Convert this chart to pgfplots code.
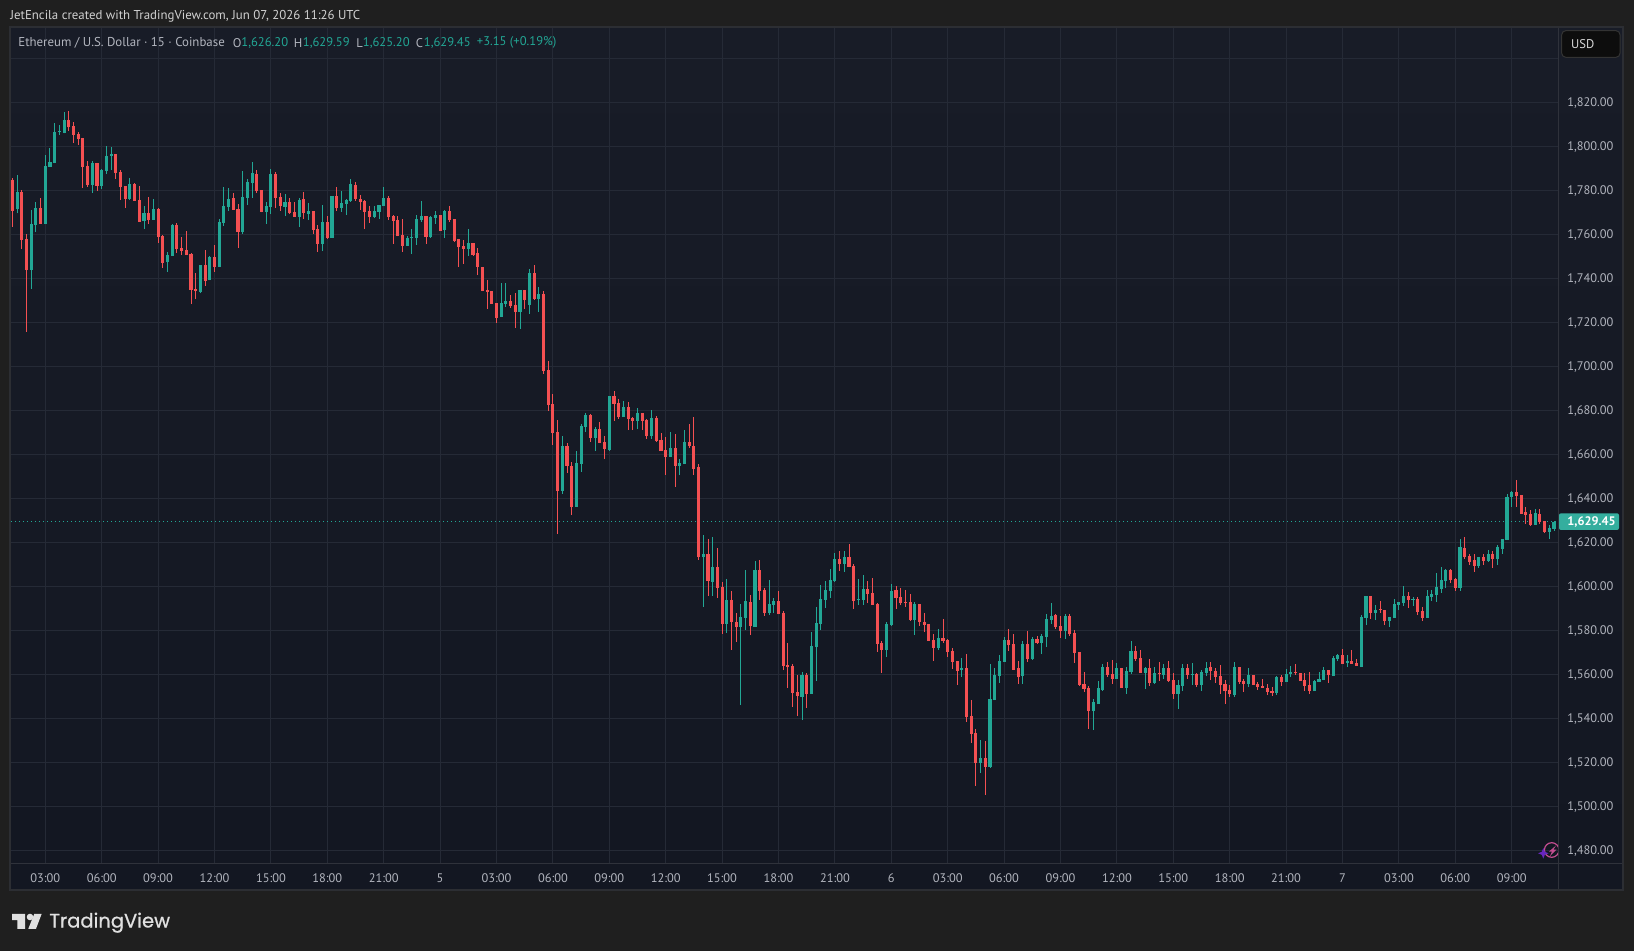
\documentclass[border=0pt]{standalone}
\usepackage{pgfplots}
\usepackage{pgfplotstable}
\usepackage{fontspec}
\pgfplotsset{compat=1.18}
\setmainfont{PT Sans}
\newfontfamily\logofont{Poppins}[FakeBold=0.7]
\definecolor{outerbg}{HTML}{1F1F1F}
\definecolor{panetop}{HTML}{181C27}
\definecolor{panebot}{HTML}{131722}
\definecolor{gridc}{HTML}{252A36}
\definecolor{linec}{HTML}{2F323B}
\definecolor{framec}{HTML}{2C2E33}
\definecolor{upc}{HTML}{22A795}
\definecolor{downc}{HTML}{F45052}
\definecolor{txt}{HTML}{B2B5BE}
\pgfplotstableread{
i o h l c
0 1784.7 1785.8 1763.5 1770.8
1 1771.4 1787.0 1769.5 1779.4
2 1779.4 1780.2 1753.5 1757.4
3 1758.0 1760.0 1715.8 1743.8
4 1743.8 1771.1 1735.3 1764.7
5 1764.2 1774.7 1761.1 1772.0
6 1772.0 1776.5 1764.7 1764.7
7 1764.7 1796.1 1764.7 1791.1
8 1790.8 1799.2 1790.8 1792.9
9 1792.4 1810.6 1792.4 1806.5
10 1806.5 1809.7 1805.2 1807.0
11 1806.2 1815.6 1805.9 1812.0
12 1812.0 1816.1 1807.1 1808.6
13 1809.2 1811.1 1801.7 1805.2
14 1805.6 1806.5 1800.8 1803.3
15 1803.8 1803.8 1781.1 1790.8
16 1791.1 1793.3 1781.7 1782.3
17 1782.4 1793.3 1778.8 1792.4
18 1792.4 1792.4 1779.8 1782.0
19 1782.0 1789.7 1780.8 1789.2
20 1788.8 1800.2 1787.4 1795.6
21 1795.6 1799.7 1789.2 1796.5
22 1796.5 1796.5 1785.3 1787.9
23 1788.3 1789.2 1775.6 1781.7
24 1782.0 1782.0 1772.1 1776.1
25 1776.1 1785.6 1775.6 1782.9
26 1782.9 1783.3 1775.2 1775.2
27 1775.6 1782.0 1765.6 1765.6
28 1766.1 1772.9 1762.4 1769.7
29 1769.7 1777.0 1764.7 1766.5
30 1766.5 1776.1 1766.5 1771.5
31 1771.5 1772.0 1756.1 1758.8
32 1759.2 1759.7 1744.7 1747.0
33 1747.4 1752.0 1742.9 1750.6
34 1750.2 1764.7 1750.2 1764.2
35 1764.2 1765.2 1751.5 1753.3
36 1753.8 1758.8 1750.6 1752.4
37 1752.9 1761.5 1750.5 1750.5
38 1751.1 1751.5 1728.3 1734.7
39 1735.2 1742.4 1730.6 1734.2
40 1733.8 1746.1 1733.2 1746.1
41 1746.1 1752.9 1736.5 1738.8
42 1739.2 1750.2 1739.2 1749.7
43 1749.7 1755.2 1742.9 1745.2
44 1745.2 1767.0 1745.2 1765.6
45 1765.2 1781.5 1763.8 1772.9
46 1772.4 1781.1 1770.6 1776.1
47 1776.5 1778.8 1771.1 1771.1
48 1771.5 1773.8 1753.8 1761.1
49 1761.1 1788.8 1760.2 1777.0
50 1776.5 1785.2 1773.3 1783.8
51 1783.3 1792.9 1776.5 1787.9
52 1787.4 1789.2 1778.8 1779.7
53 1780.2 1780.2 1770.0 1770.2
54 1770.2 1774.7 1764.7 1772.9
55 1772.4 1789.7 1769.2 1787.4
56 1787.4 1788.3 1772.0 1776.5
57 1777.0 1778.8 1770.6 1772.9
58 1772.4 1778.3 1768.3 1774.7
59 1774.7 1776.5 1769.2 1769.7
60 1770.2 1774.7 1767.9 1767.9
61 1767.9 1776.5 1763.3 1775.6
62 1776.1 1779.2 1767.0 1769.7
63 1769.2 1774.2 1766.5 1770.6
64 1770.6 1770.6 1760.2 1762.0
65 1762.4 1764.2 1752.0 1755.6
66 1755.6 1773.3 1752.4 1765.6
67 1765.6 1768.3 1757.9 1758.3
68 1758.3 1777.4 1758.3 1777.4
69 1777.4 1781.5 1770.6 1772.0
70 1772.0 1779.7 1770.2 1774.2
71 1773.8 1776.1 1768.8 1775.6
72 1775.2 1785.2 1774.7 1782.9
73 1782.4 1783.8 1775.2 1776.1
74 1776.1 1777.9 1771.1 1774.7
75 1775.2 1775.6 1762.4 1770.2
76 1770.6 1772.9 1765.2 1767.9
77 1767.9 1772.9 1767.4 1770.6
78 1770.2 1773.3 1767.0 1773.3
79 1772.9 1781.5 1772.9 1776.5
80 1776.5 1777.4 1766.5 1767.9
81 1768.3 1768.8 1755.6 1766.1
82 1766.5 1768.3 1759.2 1759.2
83 1759.7 1767.0 1752.0 1754.7
84 1754.7 1759.2 1754.7 1758.3
85 1758.3 1762.4 1751.1 1758.8
86 1758.3 1768.8 1755.2 1767.0
87 1766.5 1775.2 1765.6 1768.3
88 1768.3 1768.3 1755.6 1758.8
89 1758.6 1768.3 1758.3 1767.9
90 1767.4 1770.6 1764.7 1768.8
91 1768.8 1768.8 1761.5 1761.5
92 1762.0 1771.1 1758.3 1770.6
93 1770.6 1772.9 1765.6 1766.5
94 1767.0 1767.0 1756.5 1757.0
95 1757.9 1757.9 1745.2 1754.2
96 1754.7 1757.4 1746.5 1753.3
97 1753.3 1762.4 1750.2 1756.1
98 1756.1 1756.1 1750.2 1750.6
99 1751.5 1753.8 1741.5 1745.2
100 1745.2 1745.2 1734.2 1734.2
101 1734.7 1739.2 1726.1 1733.8
102 1734.2 1734.2 1728.3 1728.3
103 1728.8 1728.8 1719.7 1722.0
104 1722.4 1737.9 1722.4 1728.8
105 1728.3 1737.9 1727.0 1729.7
106 1729.7 1732.4 1726.5 1727.4
107 1727.9 1733.3 1717.4 1724.7
108 1724.7 1734.7 1717.0 1734.7
109 1734.7 1734.7 1726.1 1730.2
110 1727.9 1744.2 1723.8 1742.4
111 1742.4 1746.1 1730.2 1730.6
112 1730.6 1736.1 1724.7 1732.9
113 1732.9 1734.2 1696.5 1697.9
114 1698.3 1702.4 1679.7 1682.4
115 1682.9 1687.4 1664.2 1669.7
116 1670.2 1675.6 1623.8 1643.3
117 1643.3 1668.3 1642.0 1663.8
118 1663.8 1665.2 1651.5 1654.7
119 1654.7 1656.5 1632.4 1636.1
120 1636.1 1661.5 1636.1 1656.1
121 1655.6 1673.8 1652.0 1672.9
122 1672.4 1678.8 1670.2 1677.9
123 1677.9 1678.3 1665.6 1667.4
124 1667.4 1672.4 1661.5 1671.5
125 1671.5 1674.7 1665.2 1665.2
126 1665.6 1668.3 1657.9 1662.4
127 1662.0 1686.5 1661.5 1686.5
128 1686.5 1688.8 1675.2 1682.9
129 1683.3 1685.2 1676.1 1677.0
130 1677.0 1684.2 1677.0 1681.5
131 1681.5 1683.8 1671.1 1676.1
132 1676.5 1677.0 1671.1 1675.2
133 1675.2 1681.1 1671.5 1678.8
134 1678.8 1678.8 1671.1 1675.2
135 1675.6 1676.1 1667.0 1668.3
136 1668.3 1680.2 1667.0 1676.5
137 1676.5 1677.4 1665.6 1666.1
138 1666.5 1669.7 1661.5 1661.5
139 1662.0 1667.9 1650.6 1658.8
140 1658.8 1670.2 1658.8 1662.9
141 1662.9 1669.2 1645.2 1654.7
142 1654.7 1657.9 1650.6 1656.1
143 1655.6 1671.1 1655.6 1665.6
144 1665.6 1673.8 1662.9 1663.8
145 1663.8 1677.0 1650.6 1653.3
146 1654.2 1655.6 1612.0 1613.3
147 1613.3 1623.3 1590.6 1614.7
148 1614.7 1621.5 1595.6 1602.4
149 1602.0 1622.4 1595.6 1608.8
150 1608.8 1617.4 1594.7 1599.2
151 1599.7 1602.0 1578.3 1582.9
152 1582.9 1603.3 1578.8 1593.8
153 1593.8 1597.9 1571.1 1583.8
154 1583.8 1587.9 1574.7 1581.5
155 1581.5 1592.0 1546.1 1586.1
156 1585.6 1607.4 1580.2 1593.3
157 1592.9 1596.1 1577.9 1582.0
158 1581.5 1611.5 1581.5 1607.4
159 1607.4 1612.0 1593.8 1597.9
160 1598.3 1599.2 1586.5 1587.9
161 1587.9 1602.9 1587.0 1592.0
162 1591.5 1594.7 1587.9 1593.3
163 1593.3 1597.9 1587.4 1587.4
164 1587.9 1588.8 1562.0 1563.8
165 1564.2 1574.2 1553.8 1563.3
166 1563.8 1564.7 1545.2 1551.5
167 1552.0 1559.7 1541.1 1550.2
168 1549.7 1561.1 1539.2 1559.7
169 1559.7 1560.6 1544.7 1551.1
170 1551.1 1579.2 1551.1 1572.9
171 1572.4 1590.6 1557.0 1583.3
172 1582.9 1600.6 1580.2 1594.2
173 1593.8 1602.4 1590.2 1598.3
174 1597.9 1607.9 1594.7 1602.9
175 1602.4 1615.2 1602.0 1612.4
176 1612.4 1616.1 1607.0 1610.2
177 1610.2 1616.1 1606.5 1613.3
178 1613.3 1619.2 1608.8 1608.8
179 1609.2 1610.2 1589.7 1593.3
180 1593.8 1603.3 1591.5 1594.2
181 1593.8 1605.2 1591.5 1598.8
182 1598.8 1602.4 1592.4 1596.5
183 1597.0 1603.8 1591.5 1591.5
184 1592.0 1592.4 1570.2 1573.8
185 1574.2 1575.2 1560.6 1571.1
186 1571.1 1583.8 1567.9 1582.9
187 1582.4 1601.1 1582.0 1597.9
188 1598.3 1600.2 1589.7 1594.7
189 1595.2 1599.2 1591.5 1592.4
190 1592.9 1598.3 1590.6 1592.4
191 1592.9 1596.5 1584.2 1584.7
192 1584.7 1592.9 1577.9 1592.0
193 1592.0 1592.0 1582.0 1583.8
194 1583.8 1587.9 1579.2 1582.4
195 1582.9 1582.9 1575.2 1575.2
196 1575.6 1578.3 1566.1 1572.0
197 1572.0 1580.6 1571.1 1576.5
198 1576.5 1585.2 1574.2 1575.2
199 1575.6 1576.1 1567.9 1570.2
200 1570.6 1572.0 1562.4 1565.6
201 1566.1 1566.1 1555.2 1561.5
202 1562.0 1567.4 1558.8 1562.9
203 1562.9 1569.2 1538.3 1540.6
204 1541.1 1548.3 1528.8 1532.9
205 1533.3 1535.2 1509.2 1519.7
206 1519.7 1530.2 1515.2 1522.0
207 1522.0 1529.7 1505.2 1517.9
208 1517.9 1564.7 1517.4 1548.8
209 1548.3 1562.9 1548.3 1559.7
210 1559.2 1568.8 1556.1 1566.1
211 1565.6 1577.0 1565.6 1575.6
212 1575.6 1580.6 1570.6 1573.3
213 1573.8 1578.3 1562.0 1562.0
214 1562.9 1566.1 1555.6 1558.8
215 1559.2 1575.2 1555.6 1573.8
216 1573.8 1579.7 1565.6 1567.0
217 1567.0 1577.0 1566.5 1576.1
218 1576.1 1577.4 1573.8 1574.2
219 1574.2 1578.3 1569.2 1577.4
220 1577.0 1587.4 1572.4 1585.2
221 1584.7 1592.4 1582.9 1586.5
222 1587.0 1587.4 1580.6 1581.5
223 1582.0 1586.5 1576.5 1579.7
224 1579.7 1587.4 1576.1 1586.5
225 1586.5 1587.4 1577.4 1578.3
226 1578.8 1580.2 1565.2 1569.7
227 1570.2 1570.2 1554.7 1555.2
228 1555.6 1561.1 1552.0 1553.3
229 1553.8 1554.7 1535.2 1543.3
230 1543.3 1548.8 1534.7 1547.4
231 1546.5 1557.0 1546.5 1553.8
232 1552.9 1564.7 1552.4 1563.3
233 1563.3 1565.6 1558.8 1559.7
234 1560.2 1566.5 1555.6 1557.9
235 1557.9 1565.2 1557.9 1562.9
236 1562.9 1562.9 1553.8 1553.8
237 1553.8 1563.3 1551.1 1561.5
238 1561.1 1575.2 1560.2 1570.6
239 1570.6 1572.9 1566.1 1567.0
240 1567.4 1571.1 1560.6 1560.6
241 1560.6 1563.3 1553.3 1562.9
242 1562.9 1567.0 1554.7 1556.1
243 1556.1 1563.3 1555.6 1560.6
244 1560.6 1565.6 1557.0 1560.2
245 1559.7 1564.7 1557.9 1562.9
246 1562.9 1566.1 1556.5 1557.0
247 1557.4 1560.6 1548.8 1551.1
248 1551.1 1557.4 1544.2 1555.2
249 1554.7 1564.7 1552.4 1562.9
250 1562.9 1564.7 1557.9 1559.7
251 1559.7 1565.2 1555.2 1560.2
252 1560.2 1560.6 1554.2 1555.2
253 1555.2 1562.0 1552.4 1561.1
254 1560.6 1565.6 1559.2 1562.9
255 1563.3 1565.6 1557.4 1561.5
256 1561.5 1562.9 1556.1 1558.8
257 1559.2 1564.2 1551.1 1555.2
258 1555.6 1557.4 1546.5 1552.4
259 1552.9 1555.2 1549.7 1551.1
260 1550.6 1565.6 1549.7 1563.3
261 1563.3 1563.3 1555.6 1556.5
262 1557.0 1557.9 1552.0 1555.6
263 1555.6 1562.9 1554.2 1559.7
264 1559.7 1559.7 1555.2 1555.2
265 1555.6 1556.5 1552.9 1554.2
266 1554.7 1557.9 1553.8 1553.8
267 1553.8 1555.6 1550.6 1552.0
268 1552.4 1554.2 1550.2 1551.5
269 1551.5 1559.2 1550.6 1558.8
270 1558.8 1559.7 1554.7 1556.5
271 1556.5 1562.4 1556.5 1560.2
272 1560.2 1563.8 1558.8 1561.1
273 1561.1 1564.7 1559.7 1560.6
274 1560.6 1560.6 1557.0 1557.0
275 1557.4 1560.6 1552.4 1554.7
276 1555.2 1561.1 1551.1 1552.4
277 1552.4 1557.4 1552.4 1557.0
278 1556.5 1561.1 1556.5 1557.9
279 1557.4 1563.3 1557.4 1562.0
280 1562.0 1562.0 1556.1 1559.7
281 1559.2 1568.3 1559.2 1567.4
282 1567.0 1569.2 1566.1 1568.8
283 1568.8 1571.5 1564.7 1564.7
284 1565.2 1568.8 1563.3 1566.1
285 1566.1 1571.1 1564.7 1564.7
286 1565.2 1567.0 1563.8 1563.8
287 1563.3 1587.0 1563.3 1586.1
288 1585.6 1595.6 1582.4 1595.6
289 1595.6 1595.6 1585.2 1587.9
290 1587.9 1591.5 1584.7 1589.2
291 1589.7 1593.3 1587.9 1589.2
292 1589.2 1589.2 1582.4 1584.2
293 1584.2 1586.1 1581.5 1586.1
294 1585.6 1594.2 1585.6 1592.0
295 1591.5 1592.9 1589.2 1592.9
296 1592.4 1600.2 1591.1 1595.6
297 1595.6 1597.4 1590.2 1593.8
298 1593.8 1595.2 1591.1 1594.2
299 1594.2 1595.2 1587.0 1588.3
300 1588.8 1590.6 1584.2 1585.6
301 1585.6 1598.3 1585.6 1595.6
302 1595.2 1598.3 1593.3 1596.5
303 1596.1 1606.1 1592.9 1599.7
304 1598.8 1608.8 1597.0 1602.9
305 1602.4 1607.9 1599.2 1607.4
306 1607.4 1607.9 1601.5 1602.9
307 1603.3 1603.8 1597.9 1599.2
308 1599.2 1621.5 1597.9 1617.9
309 1617.4 1622.4 1612.4 1613.3
310 1613.8 1614.7 1609.7 1611.1
311 1612.0 1614.7 1606.5 1609.2
312 1609.2 1613.3 1608.3 1613.3
313 1613.3 1614.7 1609.7 1611.5
314 1611.5 1616.5 1611.1 1614.7
315 1614.7 1616.1 1608.3 1612.4
316 1612.4 1618.8 1609.7 1617.9
317 1617.0 1621.5 1614.7 1621.5
318 1621.1 1642.0 1621.1 1640.6
319 1640.6 1643.3 1636.1 1642.9
320 1642.9 1648.3 1636.1 1641.1
321 1641.5 1641.5 1632.9 1632.9
322 1633.8 1636.1 1628.3 1632.4
323 1632.9 1634.7 1627.4 1627.9
324 1627.9 1635.2 1627.9 1633.3
325 1632.9 1635.2 1628.3 1629.2
326 1629.7 1629.7 1624.2 1624.7
327 1624.7 1627.9 1621.5 1626.5
328 1626.20 1629.59 1625.20 1629.45
}\eth
\begin{document}
\begin{tikzpicture}
\begin{scope}[x=0.5pt,y=-0.5pt]
\fill[outerbg] (0,0) rectangle (1634,951);
\shade[top color=panetop,bottom color=panebot,middle color=panetop!50!panebot] (10,27) rectangle (1623,890);
\end{scope}
\begin{axis}[
  at={(5.5pt,-431.65pt)}, anchor=south west,
  scale only axis, width=773.65pt, height=418.15pt,
  xmin=-0.298, xmax=328.915, ymin=1474.09, ymax=1854.23,
  axis line style={draw=none},
  major tick length=0pt, clip=true,
  grid=major, grid style={gridc,line width=0.5pt},
  ytick={1480,1500,...,1820},
  yticklabel pos=right,
  xticklabel pos=bottom,
  extra y ticks={1840},
  extra y tick labels={},
  extra y tick style={grid=major},
  /pgf/number format/.cd, fixed, fixed zerofill, precision=2, 1000 sep={,}, assume math mode=true,
  /pgfplots/.cd,
  yticklabel style={anchor=west,inner sep=0pt,xshift=4.3pt,yshift=-0.2pt,text=txt,font=\fontsize{6.2}{7}\selectfont},
  xtick={7,19,31,43,55,67,79,91,103,115,127,139,151,163,175,187,199,211,223,235,247,259,271,283,295,307,319},
  xticklabels={03:00,06:00,09:00,12:00,15:00,18:00,21:00,5,03:00,06:00,09:00,12:00,15:00,18:00,21:00,6,03:00,06:00,09:00,12:00,15:00,18:00,21:00,7,03:00,06:00,09:00},
  xticklabel style={anchor=center,inner sep=0pt,yshift=-7.4pt,text=txt,font=\fontsize{6.2}{7}\selectfont},
  unbounded coords=discard,
]
\addplot[upc,line width=0.5pt,dash pattern=on 0.5pt off 1.5pt,forget plot,no markers] coordinates {(-0.298,1629.45) (328.915,1629.45)};
% wicks
\addplot[draw=none,no markers,forget plot,error bars/.cd,y dir=plus,y explicit,error mark=none,error bar style={draw=downc,line width=0.5pt}]
 table[x expr={\thisrow{c}<\thisrow{o} ? \thisrow{i} : nan},y=l,y error plus expr=\thisrow{h}-\thisrow{l}] {\eth};
\addplot[draw=none,no markers,forget plot,error bars/.cd,y dir=plus,y explicit,error mark=none,error bar style={draw=upc,line width=0.5pt}]
 table[x expr={\thisrow{c}<\thisrow{o} ? nan : \thisrow{i}},y=l,y error plus expr=\thisrow{h}-\thisrow{l}] {\eth};
% bodies
\addplot[draw=none,no markers,forget plot,error bars/.cd,y dir=plus,y explicit,error mark=none,error bar style={draw=downc,line width=1.55pt}]
 table[x expr={\thisrow{c}<\thisrow{o} ? \thisrow{i} : nan},y=c,y error plus expr=\thisrow{o}-\thisrow{c}] {\eth};
\addplot[draw=none,no markers,forget plot,error bars/.cd,y dir=plus,y explicit,error mark=none,error bar style={draw=upc,line width=1.55pt}]
 table[x expr={\thisrow{c}<\thisrow{o} ? nan : \thisrow{i}},y=o,y error plus expr=\thisrow{c}-\thisrow{o}] {\eth};
\end{axis}
\begin{scope}[x=0.5pt,y=-0.5pt]
\draw[linec,line width=0.5pt] (1558.3,27)--(1558.3,890);
\draw[linec,line width=0.5pt] (10,863.3)--(1623,863.3);
\draw[framec,line width=1pt] (10,27) rectangle (1623,890);
% header
\node[anchor=west,inner sep=0pt,text=white!82!black,font=\fontsize{6.43}{7}\selectfont] at (10,16) {JetEncila created with TradingView.com, Jun 07, 2026 11:26 UTC};
% legend
\tikzset{lg/.style={anchor=west,inner sep=0pt,font=\fontsize{6.3}{7}\selectfont}}
\node[lg,font=\fontsize{6.43}{7}\selectfont,text=txt] at (18,42.6) {Ethereum / U.S. Dollar · 15 · Coinbase};
\node[lg,text=txt] at (232.5,42.6) {O};
\node[lg,text=upc] at (241,42.6) {1,626.20};
\node[lg,text=txt] at (293.5,42.6) {H};
\node[lg,text=upc] at (302.5,42.6) {1,629.59};
\node[lg,text=txt] at (356,42.6) {L};
\node[lg,text=upc] at (362.5,42.6) {1,625.20};
\node[lg,text=txt] at (415.5,42.6) {C};
\node[lg,text=upc] at (423.5,42.6) {1,629.45};
\node[lg,text=upc] at (476.5,42.6) {+3.15 (+0.19\%)};
% USD box
\draw[fill=black!95!white,draw=white!20!black,line width=0.5pt,rounded corners=2pt] (1561.7,30.7) rectangle (1620,57.3);
\node[anchor=west,inner sep=0pt,text=white!85!black,font=\fontsize{6.3}{7}\selectfont] at (1570.7,44.5) {USD};
% price tag
\fill[upc!92!white,rounded corners=1pt] (1559,513.3) rectangle (1619,530);
\node[anchor=west,inner sep=0pt,text=white,font=\fontsize{6.2}{7}\selectfont\bfseries] at (1567,521.8) {1,629.45};
% icon
\begin{scope}
\clip (1530,835) rectangle (1558,865);
\draw[magenta!45!violet!85!white,line width=0.6pt] (1551.7,850) circle (7.3);
\fill[magenta!45!violet!85!white] (1556,845.5)--(1549,851.5)--(1552,851.5)--(1550,856)--(1556.5,849.5)--(1553.5,849.5)--cycle;
\end{scope}
\fill[violet!60!blue!85!white] (1543.3,848) -- (1544.8,851.8) -- (1548.6,853.3) -- (1544.8,854.8) -- (1543.3,858.6) -- (1541.8,854.8) -- (1538,853.3) -- (1541.8,851.8) -- cycle;
% logo
\fill[white!88!black] (12,913.8)--(25,913.8)--(25,928.8)--(17.3,928.8)--(17.3,920)--(12,920)--cycle;
\fill[white!88!black] (30,917) circle (3.3);
\fill[white!88!black] (34.3,913.8)--(41.7,913.8)--(36,928.8)--(28.3,928.8)--cycle;
\node[anchor=base west,inner sep=0pt,text=white!88!black,font=\fontsize{9.75}{12}\selectfont\logofont] at (49,927.5) {TradingView};
\end{scope}
\end{tikzpicture}
\end{document}
